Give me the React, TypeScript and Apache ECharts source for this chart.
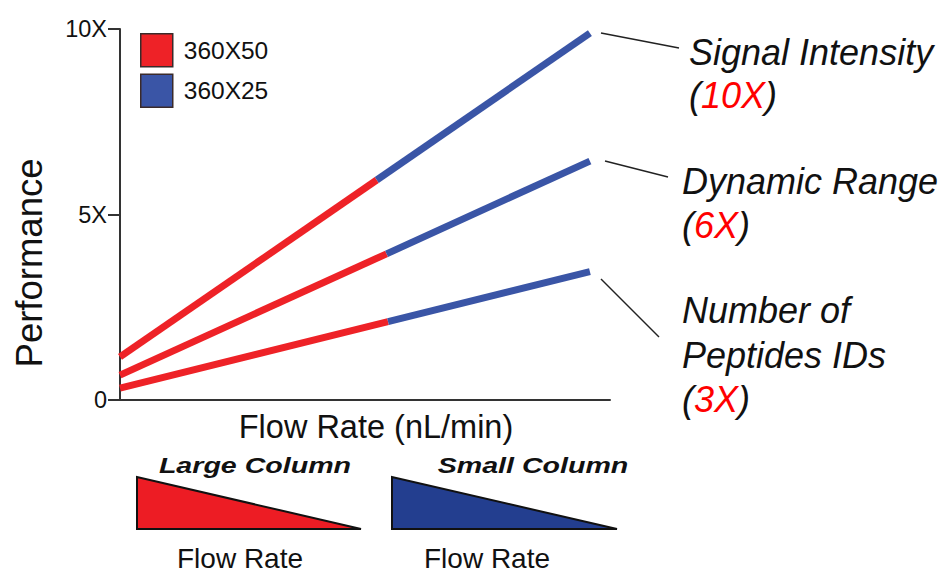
import React, { useEffect, useRef } from "react";
import * as echarts from "echarts";

// ---- data ----
const metricNames = ["Signal Intensity", "Dynamic Range", "Number of Peptides IDs"];
const foldLabels = ["10X", "6X", "3X"];
const startX = [0, 0, 0];
const breakX = [52.4, 54.4, 54.7];
const endX = [95.9, 95.9, 95.9];
const startY = [1.16, 0.67, 0.32];
const breakY = [5.93, 3.94, 2.11];
const endY = [9.89, 6.44, 3.46];
const columnNames = ["360X50", "360X25"];
const yTicks = [0, 5, 10];
const yTickLabels = ["0", "5X", "10X"];

const RED = "#ee2227";
const BLUE = "#3a55a6";
const FONT = "Liberation Sans, Arial, sans-serif";

export default function App() {
  const ref = useRef<HTMLDivElement>(null);
  useEffect(() => {
    if (!ref.current) return;
    const chart = echarts.init(ref.current, null, { renderer: "svg" });

    const series: any[] = [];
    metricNames.forEach((m, i) => {
      series.push({
        name: columnNames[0],
        type: "line",
        symbol: "none",
        color: RED,
        itemStyle: { color: RED },
        lineStyle: { color: RED, width: 7, cap: "butt" },
        data: [
          [startX[i], startY[i]],
          [breakX[i], breakY[i]],
        ],
        z: 3,
      });
      series.push({
        name: columnNames[1],
        type: "line",
        symbol: "none",
        color: BLUE,
        itemStyle: { color: BLUE },
        lineStyle: { color: BLUE, width: 7, cap: "butt" },
        data: [
          [breakX[i], breakY[i]],
          [endX[i], endY[i]],
        ],
        z: 3,
      });
    });

    const txt = (text: string, x: number, y: number, extra: any = {}) => ({
      type: "text",
      x,
      y,
      silent: true,
      ...extra,
      style: {
        text,
        fontFamily: FONT,
        fill: "#111",
        align: "left",
        verticalAlign: "middle",
        ...(extra.style || {}),
      },
    });

    const rich = {
      r: { fill: "#ff0000", color: "#ff0000", fontSize: 36, fontStyle: "italic", fontFamily: FONT },
    };
    const italic36 = { fontSize: 36, fontStyle: "italic", rich };

    const graphic: any[] = [
      // leader lines
      { type: "line", shape: { x1: 601, y1: 33, x2: 679, y2: 48 }, style: { stroke: "#222", lineWidth: 1.5 } },
      { type: "line", shape: { x1: 605, y1: 161, x2: 668, y2: 177 }, style: { stroke: "#222", lineWidth: 1.5 } },
      { type: "line", shape: { x1: 601, y1: 279, x2: 659, y2: 337 }, style: { stroke: "#222", lineWidth: 1.5 } },
      // right annotations
      txt(metricNames[0], 689, 52, { style: italic36 }),
      txt("({r|" + foldLabels[0] + "})", 689, 95, { style: italic36 }),
      txt(metricNames[1], 682, 181, { style: italic36 }),
      txt("({r|" + foldLabels[1] + "})", 682, 225, { style: italic36 }),
      txt("Number of", 682, 310, { style: italic36 }),
      txt("Peptides IDs", 682, 355, { style: italic36 }),
      txt("({r|" + foldLabels[2] + "})", 682, 399, { style: italic36 }),
      // axis titles
      txt("Performance", 29, 263, { rotation: Math.PI / 2, style: { fontSize: 36.5, align: "center" } }),
      txt("Flow Rate (nL/min)", 376, 427, { style: { fontSize: 32.5, align: "center" } }),
      // bottom column wedges
      {
        type: "polygon",
        shape: { points: [[137, 477], [137, 529], [361, 529]] },
        style: { fill: "#ed1c24", stroke: "#111", lineWidth: 2 },
      },
      {
        type: "polygon",
        shape: { points: [[392, 477], [392, 529], [617, 529]] },
        style: { fill: "#233e8f", stroke: "#111", lineWidth: 2 },
      },
      txt("Large Column", 255, 465.5, {
        scaleX: 1.3,
        style: { fontSize: 22, fontWeight: "bold", fontStyle: "italic", align: "center" },
      }),
      txt("Small Column", 533, 465.5, {
        scaleX: 1.3,
        style: { fontSize: 22, fontWeight: "bold", fontStyle: "italic", align: "center" },
      }),
      txt("Flow Rate", 240, 558, { style: { fontSize: 28, lineHeight: 26, align: "center" } }),
      txt("Flow Rate", 487, 558, { style: { fontSize: 28, lineHeight: 26, align: "center" } }),
    ];

    chart.setOption({
      animation: false,
      backgroundColor: "#ffffff",
      grid: { left: 120, right: 342, top: 29, bottom: 173, containLabel: false },
      legend: {
        data: columnNames,
        orient: "vertical",
        left: 140,
        top: 33,
        padding: 0,
        icon: "rect",
        itemWidth: 32,
        itemHeight: 33,
        itemGap: 6,
        selectedMode: false,
        itemStyle: { borderColor: "#3a2a2a", borderWidth: 1.5 },
        textStyle: { fontSize: 24.5, color: "#111", fontFamily: FONT, padding: [0, 0, 0, 6] },
      },
      xAxis: {
        type: "value",
        min: 0,
        max: 100,
        axisLine: { show: true, lineStyle: { color: "#333", width: 2 } },
        axisTick: { show: false },
        axisLabel: { show: false },
        splitLine: { show: false },
      },
      yAxis: {
        type: "value",
        min: yTicks[0],
        max: yTicks[yTicks.length - 1],
        interval: yTicks[1] - yTicks[0],
        axisLine: { show: true, lineStyle: { color: "#333", width: 2 } },
        axisTick: { show: true, length: 12, lineStyle: { color: "#333", width: 2 } },
        axisLabel: {
          margin: 13,
          fontSize: 23.5,
          color: "#111",
          fontFamily: FONT,
          padding: [0, 0, 7, 0],
          formatter: (v: number) => yTickLabels[yTicks.indexOf(v)] ?? "",
        },
        splitLine: { show: false },
      },
      series,
      graphic,
    });
    return () => chart.dispose();
  }, []);
  return (
    <div
      ref={ref}
      style={{ position: "fixed", left: 0, top: 0, width: 952, height: 573, background: "#fff" }}
    />
  );
}
